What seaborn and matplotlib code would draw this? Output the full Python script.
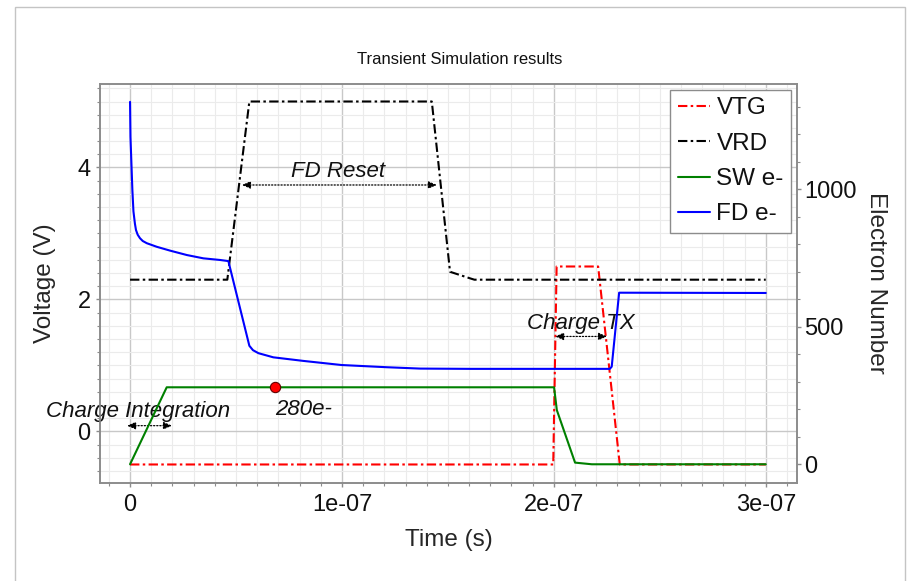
import numpy as np
import pandas as pd
import matplotlib
matplotlib.use("Agg")
import matplotlib.pyplot as plt
from matplotlib.ticker import MultipleLocator, FixedLocator, FixedFormatter
from matplotlib.patches import Rectangle
import seaborn as sns

# Transfer-gate and reset-drain voltages (V) against time (ns)
vtg_t = [0, 199.7, 201.3, 220.9, 231.1, 300]
vtg_v = [-0.5, -0.5, 2.5, 2.5, -0.5, -0.5]

vrd_t = [0, 45.9, 56.3, 142.4, 151.0, 160.5, 162.5, 300]
vrd_v = [2.3, 2.3, 5.0, 5.0, 2.42, 2.32, 2.3, 2.3]

# Electron counts in the storage well and floating diffusion against time (ns)
sw_t = [0, 17.3, 200.1, 201.4, 210.0, 217.9, 300]
sw_e = [0, 280, 280, 197, 6, 0, 0]

fd_t = [0, 0.2, 1.1, 1.6, 2.3, 2.8, 3.6, 4.7, 6.0, 7.9, 12.6, 18.9, 26.8,
        34.6, 42.5, 46.4, 56.3, 58.0, 60.6, 67.6, 81.7, 99.8, 121.0, 136.9,
        160.5, 226.4, 227.3, 230.8, 300]
fd_e = [1318, 1190, 997, 920, 875, 852, 835, 822, 812, 804, 791, 777, 761,
        749, 743, 739, 431, 415, 404, 389, 376, 361, 353, 348, 347, 347, 355,
        624, 623]

# Integrated charge marker
mark_t = [68.4]
mark_e = [280]

x_ticks = [0, 1e-7, 2e-7, 3e-7]
x_tick_labels = ["0", "1e-07", "2e-07", "3e-07"]
v_ticks = [0, 2, 4]
e_ticks = [0, 500, 1000]

NS = 1e-9


def frame(t, y):
    return pd.DataFrame({"t": np.asarray(t, dtype=float) * NS, "y": y})


sns.set_theme(style="white")
plt.rcParams["font.family"] = ["Liberation Sans", "DejaVu Sans"]
plt.rcParams["text.color"] = "#111111"

fig = plt.figure(figsize=(9.07, 5.81), dpi=100)
fig.patch.set_facecolor("white")
fig.patches.append(Rectangle((0.0165, -0.05), 0.9813, 1.0385, transform=fig.transFigure,
                             fill=False, edgecolor="#c4c4c4", lw=1.0, zorder=0))

ax = fig.add_axes([0.1103, 0.1692, 0.7688, 0.6862])
ax2 = ax.twinx()

dashdot = (0, (4.5, 1.6, 1.2, 1.6))
sns.lineplot(data=frame(vtg_t, vtg_v), x="t", y="y", ax=ax, color="#ff0000",
             lw=1.5, linestyle=dashdot, label="VTG", sort=False, estimator=None)
sns.lineplot(data=frame(vrd_t, vrd_v), x="t", y="y", ax=ax, color="black",
             lw=1.5, linestyle=dashdot, label="VRD", sort=False, estimator=None)
sns.lineplot(data=frame(sw_t, sw_e), x="t", y="y", ax=ax2, color="#008000",
             lw=1.5, label="SW e-", sort=False, estimator=None)
sns.lineplot(data=frame(fd_t, fd_e), x="t", y="y", ax=ax2, color="#0000ff",
             lw=1.5, label="FD e-", sort=False, estimator=None)
sns.scatterplot(data=frame(mark_t, mark_e), x="t", y="y", ax=ax2, color="#ff0000",
                edgecolor="#600000", linewidth=0.8, s=55, zorder=5, legend=False)

h1, l1 = ax.get_legend_handles_labels()
h2, l2 = ax2.get_legend_handles_labels()
for a in (ax, ax2):
    if a.get_legend() is not None:
        a.get_legend().remove()

ax.set_xlim(-14.16e-9, 314.9e-9)
ax.set_ylim(-0.776, 5.265)
ax2.set_ylim(-67, 1383)

ax.xaxis.set_major_locator(FixedLocator(x_ticks))
ax.xaxis.set_major_formatter(FixedFormatter(x_tick_labels))
ax.xaxis.set_minor_locator(MultipleLocator(1e-8))
ax.yaxis.set_major_locator(FixedLocator(v_ticks))
ax.yaxis.set_minor_locator(MultipleLocator(0.2))
ax2.yaxis.set_major_locator(FixedLocator(e_ticks))
ax2.yaxis.set_minor_locator(MultipleLocator(100))

ax.set_axisbelow(True)
ax.grid(which="major", color="#c8c8c8", lw=1.0)
ax.grid(which="minor", color="#ebebeb", lw=0.8)
ax2.grid(False)

for a in (ax, ax2):
    for s in a.spines.values():
        s.set_color("#8c8c8c")
        s.set_linewidth(1.2)
    a.tick_params(which="major", direction="out", length=3.2, width=1,
                  color="#8c8c8c", labelsize=17, labelcolor="#111111", pad=3)
    a.tick_params(which="minor", direction="out", length=2.2, width=0.8,
                  color="#8c8c8c")
ax.tick_params(axis="x", pad=5)
ax.tick_params(axis="y", left=True, which="both", pad=3.5)
ax.tick_params(axis="x", bottom=True, which="both")
ax2.tick_params(axis="y", right=True, which="both", pad=1.5)

ax.set_xlabel("Time (s)", fontsize=17.5)
ax.xaxis.set_label_coords(0.5, -0.115)
ax.set_ylabel("Voltage (V)", fontsize=17.5)
ax.yaxis.set_label_coords(-0.079, 0.5)
ax.yaxis.label.set_va("center")
ax2.set_ylabel("Electron Number", fontsize=17.5, rotation=270)
ax2.yaxis.set_label_coords(1.1126, 0.5)
ax2.yaxis.label.set_va("center")

fig.text(459.5 / 907, 1 - 64 / 581, "Transient Simulation results",
         fontsize=12, ha="center", va="baseline")

arrow = dict(arrowstyle="<|-|>,head_length=0.5,head_width=0.22", color="black",
             lw=0.9, linestyle=(0, (1, 1.5)), shrinkA=0, shrinkB=0, mutation_scale=10)
ax.annotate("", xy=(52.8e-9, 3.735), xytext=(144.8e-9, 3.735), arrowprops=arrow)
ax.annotate("", xy=(-1.4e-9, 0.088), xytext=(19.8e-9, 0.088), arrowprops=arrow)
ax.annotate("", xy=(200.6e-9, 1.44), xytext=(225.1e-9, 1.44), arrowprops=arrow)

ax.text(98.3e-9, 3.86, "FD Reset", fontsize=16, style="italic", ha="center", va="baseline")
ax.text(4.0e-9, 0.224, "Charge Integration", fontsize=16, style="italic",
        ha="center", va="baseline")
ax.text(212.6e-9, 1.56, "Charge TX", fontsize=16, style="italic", ha="center", va="baseline")
ax2.text(68.4e-9, 179, "280e-", fontsize=16, style="italic", ha="left", va="baseline")

leg = ax2.legend(h1 + h2, l1 + l2, loc="upper right", bbox_to_anchor=(0.991, 0.985),
                 borderaxespad=0, fontsize=17.5, handlelength=1.35, handletextpad=0.25,
                 labelspacing=0.55, borderpad=0.3, fancybox=False, framealpha=1,
                 edgecolor="#8c8c8c")
leg.get_frame().set_linewidth(1.0)

fig.savefig("out.png", dpi=100)
